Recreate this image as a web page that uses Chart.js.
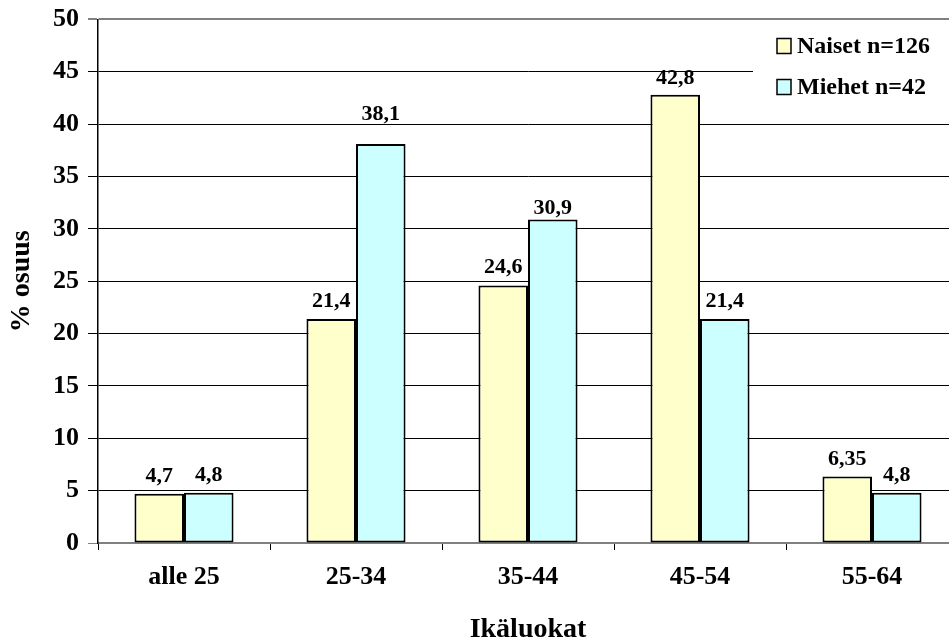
<!DOCTYPE html>
<html>
<head>
<meta charset="utf-8">
<script src="https://cdn.jsdelivr.net/npm/chart.js@4/dist/chart.umd.min.js"></script>
<style>
  html, body { margin: 0; padding: 0; overflow: hidden; background: #fff; }
  #wrap { position: absolute; left: 0; top: 0; width: 962px; height: 644px; }
</style>
</head>
<body>
<div id="wrap"><canvas id="c"></canvas></div>
<script>
// Age groups and the share (%) of each group, per gender
const categories = ['alle 25', '25-34', '35-44', '45-54', '55-64'];
const naiset = [4.7, 21.4, 24.6, 42.8, 6.35];
const miehet = [4.8, 38.1, 30.9, 21.4, 4.8];
const seriesLabels = ['Naiset n=126', 'Miehet n=42'];
const yTicks = [0, 5, 10, 15, 20, 25, 30, 35, 40, 45, 50];

const FONT = "'Liberation Serif', 'Times New Roman', serif";

const fmt = v => String(v).replace('.', ',');

// Value labels above each bar; a few were nudged by hand in the layout
const LABEL_GAP = 12;
const labelNudge = { '0:3': 11, '1:1': 24, '1:2': 5 };

const valueLabels = {
  id: 'valueLabels',
  afterDatasetsDraw(chart) {
    const ctx = chart.ctx;
    ctx.save();
    ctx.font = 'bold 22px ' + FONT;
    ctx.fillStyle = '#000';
    ctx.textAlign = 'center';
    ctx.textBaseline = 'alphabetic';
    chart.data.datasets.forEach((ds, i) => {
      chart.getDatasetMeta(i).data.forEach((el, j) => {
        const gap = labelNudge[i + ':' + j] ?? LABEL_GAP;
        ctx.fillText(fmt(ds.data[j]), el.x, el.y - gap);
      });
    });
    ctx.restore();
  }
};

// Boxed legend with a white backing that sits over the gridlines
const boxLegend = {
  id: 'boxLegend',
  afterDraw(chart) {
    const ctx = chart.ctx;
    const area = chart.chartArea;
    ctx.save();
    ctx.fillStyle = '#fff';
    ctx.fillRect(753, area.top + 6, chart.width - 753, 82);
    ctx.font = 'bold 24px ' + FONT;
    ctx.textBaseline = 'middle';
    ctx.textAlign = 'left';
    chart.data.datasets.forEach((ds, i) => {
      const cy = 46 + i * 41;
      ctx.fillStyle = ds.backgroundColor;
      ctx.fillRect(777, cy - 7.5, 14, 15);
      ctx.strokeStyle = '#000';
      ctx.lineWidth = 1.5;
      ctx.strokeRect(777, cy - 7.5, 14, 15);
      ctx.fillStyle = '#000';
      ctx.fillText(ds.label, 797, cy + 1);
    });
    ctx.restore();
  }
};

new Chart(document.getElementById('c'), {
  type: 'bar',
  data: {
    labels: categories,
    datasets: [
      { label: seriesLabels[0], data: naiset, backgroundColor: '#FFFFCC',
        borderColor: '#000', borderWidth: 2, borderSkipped: false },
      { label: seriesLabels[1], data: miehet, backgroundColor: '#CCFFFF',
        borderColor: '#000', borderWidth: 2, borderSkipped: false }
    ]
  },
  options: {
    responsive: true,
    maintainAspectRatio: false,
    animation: false,
    devicePixelRatio: 1,
    layout: { padding: { top: 19, right: 4, left: 0, bottom: 0 } },
    datasets: { bar: { categoryPercentage: 0.576, barPercentage: 1.0 } },
    plugins: { legend: { display: false }, tooltip: { enabled: false } },
    scales: {
      x: {
        grid: { display: true, drawOnChartArea: false, offset: true,
                tickLength: 7, color: '#000', lineWidth: 1 },
        border: { display: true, color: '#808080', width: 1.5 },
        ticks: { color: '#000', padding: 12, maxRotation: 0,
                 font: { family: FONT, weight: 'bold', size: 26 } },
        title: { display: true, text: 'Ikäluokat', color: '#000',
                 padding: { top: 0, bottom: 0 },
                 font: { family: FONT, weight: 'bold', size: 28, lineHeight: 1.0 } },
        afterFit(scale) { scale.height = 101; }
      },
      y: {
        min: 0, max: 50,
        afterBuildTicks(scale) { scale.ticks = yTicks.map(v => ({ value: v })); },
        grid: {
          color: c => (c.tick && (c.tick.value === 50 || c.tick.value === 0)) ? '#808080' : '#000',
          lineWidth: c => (c.tick && c.tick.value === 50) ? 2 : 1,
          tickLength: 10, drawTicks: true
        },
        border: { display: true, color: '#000', width: 1.5 },
        ticks: { color: '#000', padding: 9,
                 font: { family: FONT, weight: 'bold', size: 26, lineHeight: 0.8 } },
        title: { display: true, text: '% osuus', color: '#000',
                 padding: { top: 8, bottom: 6 },
                 font: { family: FONT, weight: 'bold', size: 28, lineHeight: 1.0 } },
        afterFit(scale) { scale.width = 98; }
      }
    }
  },
  plugins: [valueLabels, boxLegend]
});
</script>
</body>
</html>
